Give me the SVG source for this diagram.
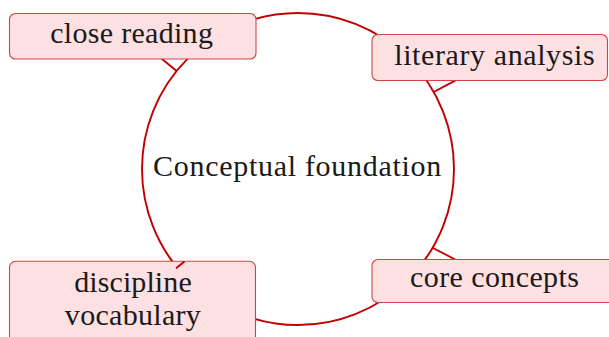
<svg xmlns="http://www.w3.org/2000/svg" width="609" height="337" viewBox="0 0 609 337">
<style>
.ring{fill:none;stroke:#c00000;stroke-width:1.9}
.tick{fill:none;stroke:#c00000;stroke-width:1.9;stroke-linecap:butt}
.box{fill:#fde0e2;stroke:#d24444;stroke-width:1.1}
</style>
<rect width="609" height="337" fill="#ffffff"/>
<g id="connectors">
<circle class="ring" cx="298" cy="169" r="156"/>
<line class="tick" x1="176.6" y1="71" x2="160.5" y2="57.8"/>
<line class="tick" x1="433.7" y1="92" x2="457" y2="79.6"/>
<line class="tick" x1="433" y1="248" x2="458" y2="261"/>
</g>
<g id="center" font-family="Liberation Serif" font-size="30" fill="#1a1a1a" text-anchor="middle">
<text x="297.5" y="176" letter-spacing="0.7">Conceptual foundation</text>
</g>
<g id="close-reading" font-family="Liberation Serif" font-size="30" fill="#1a1a1a" text-anchor="middle">
<rect class="box" x="9.5" y="13.5" width="246.5" height="45.5" rx="6"/>
<text x="131.7" y="43.3" letter-spacing="0.3">close reading</text>
</g>
<g id="literary-analysis" font-family="Liberation Serif" font-size="30" fill="#1a1a1a" text-anchor="middle">
<rect class="box" x="372" y="34.5" width="235.5" height="46" rx="6"/>
<text x="494.7" y="65" letter-spacing="0.6">literary analysis</text>
</g>
<g id="core-concepts" font-family="Liberation Serif" font-size="30" fill="#1a1a1a" text-anchor="middle">
<rect class="box" x="372" y="259.5" width="246" height="43" rx="6"/>
<text x="494.7" y="287.3" letter-spacing="0.4">core concepts</text>
</g>
<g id="discipline-vocabulary" font-family="Liberation Serif" font-size="30" fill="#1a1a1a" text-anchor="middle">
<rect class="box" x="9.5" y="261.3" width="246" height="90" rx="6"/>
<text x="133" y="291.7" letter-spacing="0.1">discipline</text>
<text x="133" y="325" letter-spacing="0.3">vocabulary</text>
</g>
<g id="connector-tips">
<line class="tick" x1="176" y1="268.2" x2="184.5" y2="261.5"/>
</g>
</svg>
